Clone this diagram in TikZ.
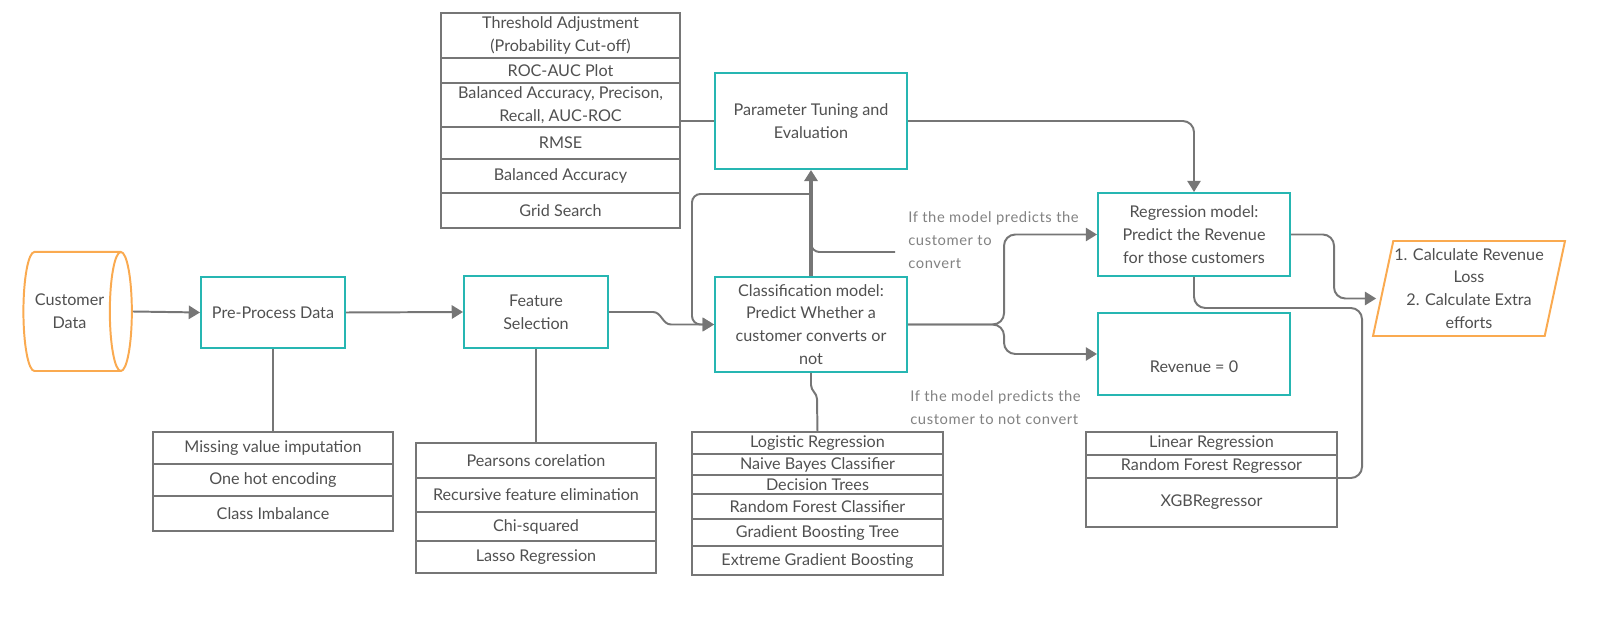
\documentclass[tikz,border=0pt]{standalone}
\usepackage{fontspec}
\setmainfont{Lato}
\newfontfamily\noteFont[LetterSpace=4]{Lato}
\usetikzlibrary{shapes.geometric, arrows.meta, positioning, calc}
\definecolor{tealLine}{RGB}{38,182,178}
\definecolor{orangeLine}{RGB}{250,170,80}
\definecolor{greyLine}{RGB}{118,118,118}
\definecolor{greyText}{RGB}{80,80,80}
\definecolor{noteText}{RGB}{130,130,130}
\tikzstyle{process} = [rectangle, minimum width=4.8cm, text centered, align=center, draw=tealLine, line width=1.4pt, text=greyText, font=\fontsize{11.5}{16.2}\selectfont]
\tikzstyle{io} = [draw=orangeLine, line width=1.4pt, fill=white, text=greyText, align=center, font=\fontsize{11.5}{16.2}\selectfont]
\tikzstyle{item} = [rectangle, draw=greyLine, line width=1.4pt, outer sep=0pt, inner sep=0pt, text centered, align=center, text=greyText, font=\fontsize{11.5}{16.2}\selectfont]
\tikzstyle{line} = [draw=greyLine, line width=1.4pt]
\tikzstyle{arrow} = [line, -{Triangle[length=8pt, width=9.5pt]}]
\tikzstyle{note} = [text=noteText, align=left, inner sep=0pt, font=\noteFont\fontsize{10.5}{16.2}\selectfont]

\begin{document}
\begin{tikzpicture}[x=0.025cm, y=-0.025cm]
\useasboundingbox (0,0) rectangle (1600,642);

% main flow
\node (custData) [io, cylinder, aspect=0.5, minimum width=2.975cm, minimum height=2.375cm] at (69.5,311.5) {Customer\\Data};
\node (preProc) [process, minimum width=3.6cm, minimum height=1.775cm] at (273,312.5) {Pre-Process Data};
\node (featSel) [process, minimum width=3.6cm, minimum height=1.8cm] at (536,312) {Feature\\Selection};
\node (classModel) [process, minimum height=2.375cm] at (811,324.5) {Classification model:\\Predict Whether a\\customer converts or\\not};
\node (paramTune) [process, minimum height=2.4cm] at (811,121) {Parameter Tuning and\\Evaluation};
\node (regModel) [process, minimum height=2.075cm] at (1194,234.5) {Regression model:\\Predict the Revenue\\for those customers};
\node (revZero) [process, minimum height=2.05cm, text height=0.9cm, text depth=0pt] at (1194,354) {Revenue = 0};
\node (calcOut) [io, trapezium, trapezium left angle=76, trapezium right angle=104, trapezium stretches=true, minimum width=4.8cm, minimum height=2.375cm, inner sep=0pt] at (1469,288.5) {1. Calculate Revenue\\Loss\\2. Calculate Extra\\efforts};

% pre-processing steps
\node (ppRow1) [item, minimum width=6cm, minimum height=0.8cm] at (273,448) {Missing value imputation};
\node (ppRow2) [item, minimum width=6cm, minimum height=0.8cm, below=0pt of ppRow1] {One hot encoding};
\node (ppRow3) [item, minimum width=6cm, minimum height=0.875cm, below=0pt of ppRow2] {Class Imbalance};

% feature selection methods
\node (fsRow1) [item, minimum width=6cm, minimum height=0.875cm] at (536,460.5) {Pearsons corelation};
\node (fsRow2) [item, minimum width=6cm, minimum height=0.85cm, below=0pt of fsRow1] {Recursive feature elimination};
\node (fsRow3) [item, minimum width=6cm, minimum height=0.725cm, below=0pt of fsRow2] {Chi-squared};
\node (fsRow4) [item, minimum width=6cm, minimum height=0.8cm, below=0pt of fsRow3] {Lasso Regression};

% classifiers
\node (clRow1) [item, minimum width=6.275cm, minimum height=0.55cm] at (817.5,443) {Logistic Regression};
\node (clRow2) [item, minimum width=6.275cm, minimum height=0.525cm, below=0pt of clRow1] {Naive Bayes Classifier};
\node (clRow3) [item, minimum width=6.275cm, minimum height=0.475cm, below=0pt of clRow2] {Decision Trees};
\node (clRow4) [item, minimum width=6.275cm, minimum height=0.625cm, below=0pt of clRow3] {Random Forest Classifier};
\node (clRow5) [item, minimum width=6.275cm, minimum height=0.675cm, below=0pt of clRow4] {Gradient Boosting Tree};
\node (clRow6) [item, minimum width=6.275cm, minimum height=0.725cm, below=0pt of clRow5] {Extreme Gradient Boosting};

% regressors
\node (regRow1) [item, minimum width=6.275cm, minimum height=0.575cm] at (1211.5,443.5) {Linear Regression};
\node (regRow2) [item, minimum width=6.275cm, minimum height=0.575cm, below=0pt of regRow1] {Random Forest Regressor};
\node (regRow3) [item, minimum width=6.275cm, minimum height=1.225cm, below=0pt of regRow2] {XGBRegressor};

% evaluation
\node (evRow1) [item, minimum width=5.975cm, minimum height=1.125cm] at (560.5,35.5) {Threshold Adjustment\\(Probability Cut-off)};
\node (evRow2) [item, minimum width=5.975cm, minimum height=0.625cm, below=0pt of evRow1] {ROC-AUC Plot};
\node (evRow3) [item, minimum width=5.975cm, minimum height=1.1cm, below=0pt of evRow2] {Balanced Accuracy, Precison,\\Recall, AUC-ROC};
\node (evRow4) [item, minimum width=5.975cm, minimum height=0.8cm, below=0pt of evRow3] {RMSE};
\node (evRow5) [item, minimum width=5.975cm, minimum height=0.85cm, below=0pt of evRow4] {Balanced Accuracy};
\node (evRow6) [item, minimum width=5.975cm, minimum height=0.875cm, below=0pt of evRow5] {Grid Search};

% notes
\node (noteYes) [note, anchor=west] at (908,240) {If the model predicts the\\customer to\\convert};
\node (noteNo) [note, anchor=west] at (910,408) {If the model predicts the\\customer to not convert};
\coordinate (cvtEnd) at (895,252);

% connectors
\draw [arrow] (custData.east) -- (preProc.west);
\draw [arrow] (preProc.east) -- (featSel.west);
\draw [arrow] (featSel.east) -- ++(44,0) to[out=0, in=180] ++(18,12.5) -- (classModel.west);
\draw [line] (preProc.south) -- (ppRow1.north);
\draw [line] (featSel.south) -- (fsRow1.north);
\draw [line] (classModel.south) -- ++(0,12) to[out=-90, in=90] ++(6,14) -- (clRow1.north);
\draw [line] (paramTune.west) -- (paramTune.west -| evRow3.east);
\draw [arrow, line width=2.2pt] (classModel.north) -- (paramTune.south);
\draw [arrow, rounded corners=6pt] ($(paramTune.south)+(0,24)$) -- ++(-119,0) |- (classModel.west);
\draw [line, rounded corners=6pt] (cvtEnd) -| ($(paramTune.south)!0.5!(classModel.north)$);
\draw [arrow, rounded corners=8pt] (classModel.east) -- ++(96,0) |- (regModel.west);
\draw [arrow, rounded corners=8pt] (classModel.east) -- ++(96,0) |- (revZero.west);
\draw [arrow, rounded corners=8pt] (paramTune.east) -| (regModel.north);
\draw [arrow, rounded corners=8pt] (regModel.east) -- ++(43,0) |- ($(calcOut.west)+(-6,10)$);
\draw [line, rounded corners=8pt] (regRow2.south east) -- ++(25,0) |- ($(regModel.south)+(0,31)$) -- (regModel.south);
\end{tikzpicture}
\end{document}
